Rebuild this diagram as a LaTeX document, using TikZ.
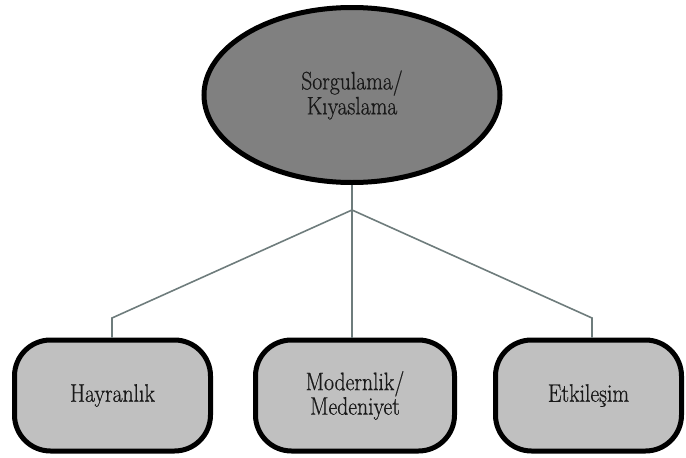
\documentclass[tikz,border=0pt]{standalone}
\usepackage{fontspec}
\newfontfamily\labelfont{Latin Modern Roman}[FakeBold=0.7]
\usetikzlibrary{shapes.geometric}
\definecolor{topfill}{HTML}{808080}
\definecolor{boxfill}{HTML}{C0C0C0}
\definecolor{linkgray}{HTML}{6E7C7C}
% labels are set slightly taller than wide
\newcommand{\tall}[1]{\scalebox{0.94}[1.1]{#1}}
\tikzset{
  topnode/.style={ellipse, draw=black, line width=5pt, fill=topfill,
    minimum width=296pt, minimum height=175pt, inner sep=0pt,
    align=center, font=\labelfont\fontsize{23}{25}\selectfont, text=black!90},
  leafbox/.style={rectangle, rounded corners=36pt, draw=black, line width=5pt,
    fill=boxfill, minimum height=111pt, inner sep=0pt,
    align=center, font=\labelfont\fontsize{23}{24.5}\selectfont, text=black!90},
  link/.style={draw=linkgray, line width=1.6pt}
}
\begin{document}
\begin{tikzpicture}[x=1pt,y=-1pt]
  \useasboundingbox (0,0) rectangle (686,458);
  % root ellipse
  \node[topnode] (root) at (352,95) {\tall{Sorgulama/}\\\tall{Kıyaslama}};
  % three leaf boxes
  \node[leafbox, minimum width=196pt] (hay) at (112.5,395.5) {\tall{Hayranlık}};
  \node[leafbox, minimum width=199pt] (mod) at (355,395.5) {\tall{Modernlik/}\\\tall{Medeniyet}};
  \node[leafbox, minimum width=186pt] (etk) at (588.5,395.5) {\tall{Etkileşim}};
  % branching connectors
  \coordinate (split) at (352,210);
  \coordinate (kneeL) at (112,318);
  \coordinate (kneeR) at (592,318);
  \draw[link] (root.south) -- (split);
  \draw[link] (split) -- (kneeL) -- (kneeL |- hay.north);
  \draw[link] (split) -- (split |- mod.north);
  \draw[link] (split) -- (kneeR) -- (kneeR |- etk.north);
\end{tikzpicture}
\end{document}
